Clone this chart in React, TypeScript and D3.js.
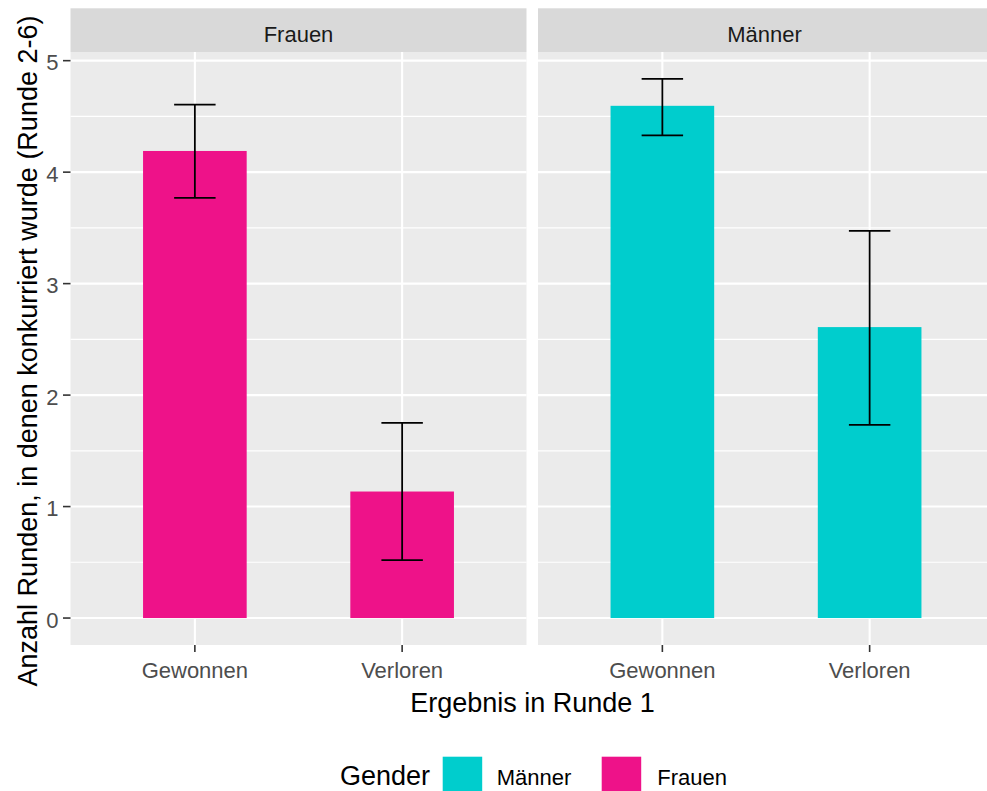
import React from "react";
import * as d3 from "d3";

const panels = ["Frauen", "Männer"];
const categories = ["Gewonnen", "Verloren"];
const frauenMean = [4.19, 1.135];
const frauenLower = [3.77, 0.52];
const frauenUpper = [4.605, 1.751];
const maennerMean = [4.595, 2.61];
const maennerLower = [4.33, 1.733];
const maennerUpper = [4.836, 3.473];
const yTicks = [0, 1, 2, 3, 4, 5];
const yMinor = [0.5, 1.5, 2.5, 3.5, 4.5];
const legendKeys = ["Männer", "Frauen"];
const colors: Record<string, string> = { Frauen: "#EE1289", Männer: "#00CDCD" };

const W = 987;
const H = 791;
const FONT = "'Liberation Sans', Arial, sans-serif";

export default function App() {
  const panelTop = 52;
  const panelBottom = 645;
  const stripTop = 8.3;
  const panelX = [
    [70.5, 526.5],
    [538, 994],
  ];
  const data = [
    { mean: frauenMean, lo: frauenLower, hi: frauenUpper },
    { mean: maennerMean, lo: maennerLower, hi: maennerUpper },
  ];
  const allHi = d3.max([...frauenUpper, ...maennerUpper]) as number;
  const span = allHi - 0;
  const y = d3
    .scaleLinear()
    .domain([0 - span * 0.05, allHi + span * 0.05])
    .range([panelBottom, panelTop]);

  return (
    <svg
      width={W}
      height={H}
      style={{ position: "absolute", left: 0, top: 0, background: "#fff" }}
      fontFamily={FONT}
    >
      <rect x={0} y={0} width={W} height={H} fill="#fff" />
      {panels.map((p, pi) => {
        const [x0, x1] = panelX[pi];
        const x = d3.scalePoint<string>().domain(categories).range([x0, x1]).padding(0.6);
        const step = x.step();
        const d = data[pi];
        return (
          <g key={p}>
            <rect x={x0} y={stripTop} width={x1 - x0} height={panelTop - stripTop} fill="#D9D9D9" />
            <text
              x={(x0 + x1) / 2 - (pi === 1 ? 1.5 : 0)}
              y={41.7}
              textAnchor="middle"
              fontSize={22}
              fill="#1A1A1A"
            >
              {p}
            </text>
            <rect x={x0} y={panelTop} width={x1 - x0} height={panelBottom - panelTop} fill="#EBEBEB" />
            {yMinor.map((v) => (
              <line key={"mn" + v} x1={x0} x2={x1} y1={y(v)} y2={y(v)} stroke="#fff" strokeWidth={1.1} />
            ))}
            {yTicks.map((v) => (
              <line key={"mj" + v} x1={x0} x2={x1} y1={y(v)} y2={y(v)} stroke="#fff" strokeWidth={2.1} />
            ))}
            {categories.map((c) => (
              <line key={"vg" + c} x1={x(c)} x2={x(c)} y1={panelTop} y2={panelBottom} stroke="#fff" strokeWidth={2.1} />
            ))}
            {categories.map((c, i) => (
              <rect
                key={"bar" + c}
                x={(x(c) as number) - step * 0.25}
                width={step * 0.5}
                y={y(d.mean[i])}
                height={y(0) - y(d.mean[i])}
                fill={colors[p]}
              />
            ))}
            {categories.map((c, i) => {
              const cx = x(c) as number;
              const hw = step * 0.1;
              return (
                <g key={"eb" + c} stroke="#000" strokeWidth={1.8}>
                  <line x1={cx} x2={cx} y1={y(d.lo[i])} y2={y(d.hi[i])} />
                  <line x1={cx - hw} x2={cx + hw} y1={y(d.lo[i])} y2={y(d.lo[i])} />
                  <line x1={cx - hw} x2={cx + hw} y1={y(d.hi[i])} y2={y(d.hi[i])} />
                </g>
              );
            })}
            {categories.map((c) => (
              <g key={"xt" + c}>
                <line x1={x(c)} x2={x(c)} y1={panelBottom} y2={panelBottom + 7} stroke="#333" strokeWidth={1.6} />
                <text x={x(c)} y={678.3} textAnchor="middle" fontSize={22} fill="#4D4D4D">
                  {c}
                </text>
              </g>
            ))}
          </g>
        );
      })}
      {yTicks.map((v) => (
        <g key={"yt" + v}>
          <line x1={63} x2={70.5} y1={y(v)} y2={y(v)} stroke="#333" strokeWidth={1.6} />
          <text x={58.5} y={y(v) + 9.5} textAnchor="end" fontSize={22} fill="#4D4D4D">
            {v}
          </text>
        </g>
      ))}
      <text x={532.5} y={711.7} textAnchor="middle" fontSize={27} fill="#000">
        Ergebnis in Runde 1
      </text>
      <text
        transform={`translate(36.5, 351) rotate(-90)`}
        textAnchor="middle"
        fontSize={27}
        fill="#000"
      >
        Anzahl Runden, in denen konkurriert wurde (Runde 2-6)
      </text>
      <text x={340} y={785} fontSize={27} fill="#000">
        Gender
      </text>
      {legendKeys.map((k, i) => {
        const kx = [442.7, 601.7][i];
        const tx = [496.7, 657.3][i];
        return (
          <g key={"lg" + k}>
            <rect x={kx} y={756.7} width={39.5} height={39.5} fill={colors[k]} />
            <text x={tx} y={785} fontSize={22} fill="#000">
              {k}
            </text>
          </g>
        );
      })}
    </svg>
  );
}
